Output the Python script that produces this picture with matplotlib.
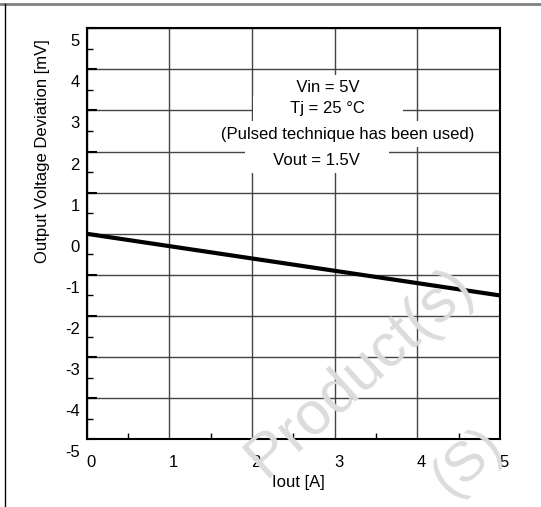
import numpy as np
import matplotlib
matplotlib.use("Agg")
import matplotlib.pyplot as plt
from matplotlib.lines import Line2D
from matplotlib.transforms import ScaledTranslation

plt.rcParams['font.family'] = ['Liberation Sans', 'DejaVu Sans']
plt.rcParams['axes.unicode_minus'] = False

# data
iout = [0, 1, 2, 3, 4, 5]
dv = [0.0, -0.3, -0.6, -0.9, -1.2, -1.5]

xticks = [0, 1, 2, 3, 4, 5]
yticks = [-5, -4, -3, -2, -1, 0, 1, 2, 3, 4, 5]

fig = plt.figure(figsize=(5.41, 5.07), dpi=100)
ax = fig.add_axes([0.1603, 0.1335, 0.7640, 0.8107])
ax.patch.set_alpha(0)

# watermark behind everything
wm = dict(color='#dcdcdc', rotation=42, ha='center', va='center', zorder=0)
fig.text(360 / 541, 1 - 372 / 507, 'Product(s)', fontsize=44, **wm)
fig.text(468 / 541, 1 - 462 / 507, '(S)', fontsize=40, **wm)

ax.plot(iout, dv, color='black', lw=3, solid_capstyle='butt', zorder=5)

ax.set_xlim(0, 5)
ax.set_ylim(-5, 5)
ax.set_xticks(xticks)
ax.set_yticks(yticks)
ax.set_xticks(np.arange(0.5, 5, 1), minor=True)
ax.set_yticks(np.arange(-4.5, 5, 1), minor=True)
ax.grid(True, which='major', color='#444444', lw=1.0, zorder=1)

for s in ax.spines.values():
    s.set_linewidth(1.5)
    s.set_color('black')

ax.tick_params(axis='both', which='both', direction='in', labelsize=12)
ax.tick_params(axis='y', which='major', length=7, width=1.5, pad=5, left=True, right=False)
ax.tick_params(axis='y', which='minor', length=4, width=1)
ax.tick_params(axis='x', which='major', length=0, pad=11)
ax.tick_params(axis='x', which='minor', length=4, width=1)

for lab in ax.get_yticklabels():
    lab.set_transform(lab.get_transform() + ScaledTranslation(0, -0.12, fig.dpi_scale_trans))
for lab in ax.get_xticklabels():
    lab.set_transform(lab.get_transform() + ScaledTranslation(0.04, 0, fig.dpi_scale_trans))

fig.text(43 / 541, 1 - 151 / 507, 'Output Voltage Deviation [mV]', rotation=90,
         ha='center', va='center', fontsize=12)
fig.text(298 / 541, 1 - 483 / 507, 'Iout [A]', ha='center', va='center', fontsize=12)

# condition notes, white boxes break the grid
box = dict(facecolor='white', edgecolor='none', boxstyle='square,pad=0.35')
notes = [
    (328, 88, '       Vin = 5V       '),
    (328, 109, '       Tj = 25 °C       '),
    (348, 134, '   (Pulsed technique has been used)   '),
    (317, 160, '     Vout = 1.5V     '),
]
for px, py, txt in notes:
    ax.text(px / 541, 1 - py / 507, txt, transform=fig.transFigure, ha='center', va='center',
            fontsize=12, bbox=box, zorder=3)

# page border lines
fig.add_artist(Line2D([0, 1], [1 - 4 / 507, 1 - 4 / 507], color='#808080', lw=2))
fig.add_artist(Line2D([5 / 541, 5 / 541], [0, 1 - 4 / 507], color='black', lw=1))

fig.savefig('out.png', dpi=100)
